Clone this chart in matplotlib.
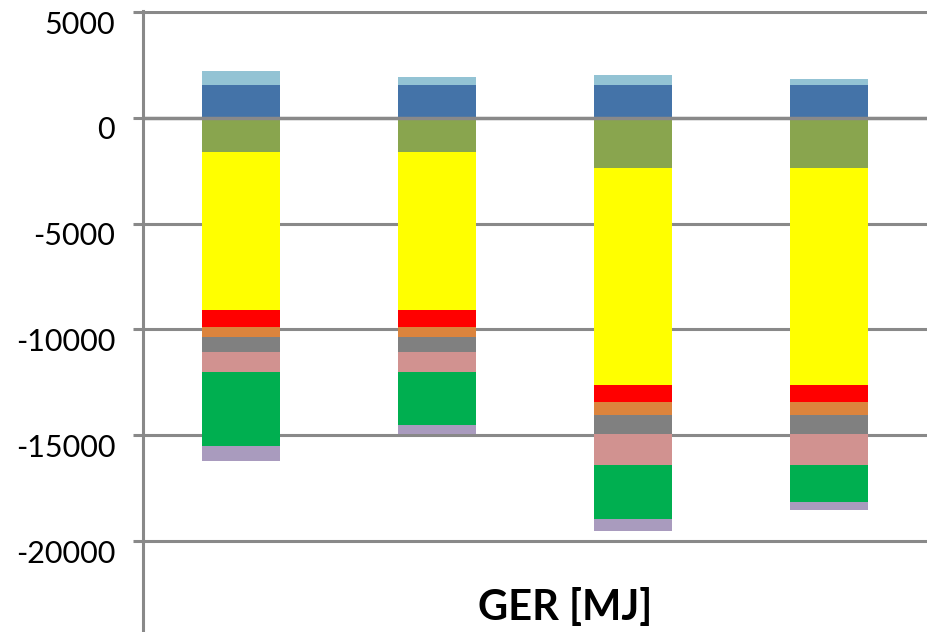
import matplotlib
matplotlib.use("Agg")
import matplotlib.pyplot as plt
import matplotlib.transforms as mtransforms
import numpy as np

categories = ["A", "B", "C", "D"]

# positive stack (bottom to top)
dark_blue = [1550, 1550, 1550, 1550]
light_blue = [660, 380, 470, 285]

# negative stack (from 0 downward)
olive = [-1620, -1620, -2360, -2360]
yellow = [-7460, -7460, -10280, -10280]
red = [-810, -810, -806, -806]
orange = [-480, -480, -590, -590]
gray = [-720, -720, -900, -900]
pink = [-940, -940, -1490, -1490]
green = [-3460, -2470, -2530, -1720]
purple = [-725, -440, -570, -365]

pos_series = [dark_blue, light_blue]
pos_colors = ["#4473A8", "#93C3D4"]
neg_series = [olive, yellow, red, orange, gray, pink, green, purple]
neg_colors = ["#89A54E", "#FFFF00", "#FF0000", "#DC843D", "#808080",
              "#D19290", "#00AF50", "#A99BBE"]

yticks = [5000, 0, -5000, -10000, -15000, -20000]
xlabel = "GER [MJ]"

W, H = 927, 632
fig = plt.figure(figsize=(W / 100, H / 100), dpi=100)
top_val = 5060
bot_val = -24300
px_per = 25000 / 529.0
top_px = 12 - (top_val - 5000) / px_per
ax = fig.add_axes([143 / W, 0, 1 - 143 / W, 1 - top_px / H])

x = np.arange(len(categories))
width = 0.4
gcol = "#898989"

bottom = np.zeros(len(x))
for vals, c in zip(pos_series, pos_colors):
    ax.bar(x, vals, width, bottom=bottom, color=c, zorder=2, linewidth=0)
    bottom += np.array(vals)
bottom = np.zeros(len(x))
for vals, c in zip(neg_series, neg_colors):
    ax.bar(x, vals, width, bottom=bottom, color=c, zorder=2, linewidth=0)
    bottom += np.array(vals)

ax.set_xlim(-0.5, 3.5)
ax.set_ylim(bot_val, top_val)
ax.set_yticks(yticks)
ax.set_yticklabels([str(t) for t in yticks], fontsize=22, family="Lato")
ax.set_xticks([])
ax.yaxis.grid(True, color=gcol, linewidth=2.2, zorder=0)
ax.set_axisbelow(True)
ax.axhline(0, color=gcol, linewidth=2.5, zorder=3)
for s in ["top", "right", "bottom"]:
    ax.spines[s].set_visible(False)
ax.spines["left"].set_color(gcol)
ax.spines["left"].set_linewidth(2.2)
ax.tick_params(axis="y", length=7, width=2.2, color=gcol, pad=13)

offset = mtransforms.ScaledTranslation(0, -0.10, fig.dpi_scale_trans)
for lab in ax.get_yticklabels():
    lab.set_transform(lab.get_transform() + offset)

fig.text(565 / W, 1 - 620 / H, xlabel, fontsize=30, fontweight="bold",
         family="Lato", ha="center", va="baseline")

fig.savefig("out.png", dpi=100)
